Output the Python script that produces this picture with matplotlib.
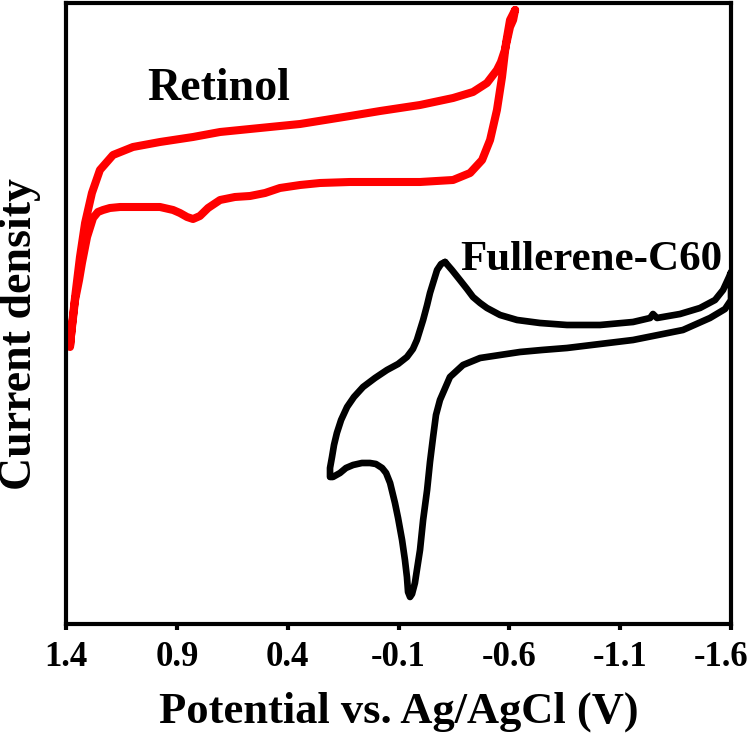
import matplotlib
matplotlib.use("Agg")
import matplotlib.pyplot as plt
from matplotlib.transforms import ScaledTranslation

# Retinol CV (potential in V vs Ag/AgCl, current density in a.u.)
retinol_v = [-0.626, -0.617, -0.603, -0.580, -0.562, -0.544, -0.499, -0.436, -0.346,
             -0.197, -0.107, -0.017, 0.119, 0.344, 0.570, 0.705, 0.827, 0.976,
             1.098, 1.188, 1.247, 1.283, 1.314, 1.337, 1.359, 1.373, 1.382,
             1.377, 1.359, 1.341, 1.328, 1.305, 1.278, 1.256, 1.233, 1.202, 1.156,
             1.066, 0.976, 0.917, 0.886, 0.854, 0.827, 0.796, 0.759, 0.705, 0.638,
             0.570, 0.502, 0.435, 0.344, 0.254, 0.119, -0.197, -0.346, -0.423,
             -0.477, -0.513, -0.544, -0.567, -0.585, -0.603, -0.626]
retinol_j = [6.14, 6.04, 5.97, 5.74, 5.62, 5.54, 5.41, 5.32, 5.26,
             5.19, 5.16, 5.13, 5.08, 5.00, 4.95, 4.92, 4.87, 4.82,
             4.77, 4.69, 4.54, 4.31, 4.01, 3.67, 3.27, 2.99, 2.77,
             2.89, 3.24, 3.44, 3.61, 3.87, 4.06, 4.12, 4.14, 4.16, 4.17,
             4.17, 4.17, 4.14, 4.11, 4.07, 4.05, 4.08, 4.16, 4.24, 4.27,
             4.28, 4.31, 4.36, 4.39, 4.41, 4.42, 4.42, 4.44, 4.51,
             4.64, 4.84, 5.14, 5.47, 5.81, 6.04, 6.14]

# Fullerene-C60 CV
c60_v = [-0.310, -0.341, -0.377, -0.409, -0.436, -0.468, -0.499, -0.558, -0.635,
         -0.738, -0.860, -1.009, -1.158, -1.235, -1.248, -1.266, -1.370, -1.460,
         -1.528, -1.564, -1.591, -1.600,
         -1.600, -1.573, -1.505, -1.383, -1.158, -1.009, -0.860, -0.747, -0.648,
         -0.558, -0.468, -0.391, -0.332, -0.287, -0.269, -0.256, -0.242, -0.229,
         -0.211, -0.197, -0.183, -0.174, -0.161, -0.152, -0.143, -0.138, -0.129,
         -0.116, -0.098, -0.084, -0.062, -0.044, -0.026, 0.002, 0.029, 0.065,
         0.105, 0.137, 0.164, 0.196, 0.209,
         0.209, 0.200, 0.191, 0.178, 0.159, 0.132, 0.101, 0.060, 0.006, -0.048,
         -0.098, -0.138, -0.165, -0.183, -0.197, -0.211, -0.229, -0.242, -0.260,
         -0.274, -0.292, -0.310]
c60_j = [3.62, 3.54, 3.44, 3.35, 3.27, 3.21, 3.16, 3.09, 3.04,
         3.01, 2.99, 2.99, 3.02, 3.06, 3.10, 3.06, 3.10, 3.16,
         3.24, 3.34, 3.47, 3.52,
         3.24, 3.15, 3.06, 2.94, 2.84, 2.80, 2.76, 2.74, 2.72,
         2.69, 2.66, 2.59, 2.47, 2.24, 2.09, 1.87, 1.62, 1.34,
         1.04, 0.74, 0.54, 0.41, 0.30, 0.27, 0.32, 0.47, 0.64,
         0.84, 1.06, 1.21, 1.41, 1.51, 1.56, 1.60, 1.61, 1.61,
         1.59, 1.56, 1.51, 1.47, 1.47,
         1.56, 1.67, 1.79, 1.91, 2.04, 2.17, 2.27, 2.37, 2.46, 2.54,
         2.60, 2.67, 2.75, 2.84, 2.94, 3.04, 3.19, 3.31, 3.44,
         3.54, 3.60, 3.62]

xticks = [1.4, 0.9, 0.4, -0.1, -0.6, -1.1, -1.6]

plt.rcParams['font.family'] = ['Liberation Serif', 'DejaVu Serif']
plt.rcParams['font.weight'] = 'bold'

fig = plt.figure(figsize=(7.5, 7.36), dpi=100)
ax = fig.add_axes([0.088, 0.1522, 0.8867, 0.8444])

ax.plot(retinol_v, retinol_j, color='#ff0000', lw=5.8, solid_joinstyle='round',
        solid_capstyle='round')
ax.plot(c60_v, c60_j, color='black', lw=4.8, solid_joinstyle='round',
        solid_capstyle='round')

ax.text(1.035, 5.24, "Retinol", fontsize=33, fontweight='bold', ha='left',
        va='baseline')
ax.text(-1.559, 3.54, "Fullerene-C60", fontsize=31, fontweight='bold',
        ha='right', va='baseline')

ax.set_xlim(1.4, -1.6)
ax.set_ylim(0, 6.215)
ax.set_xticks(xticks)
ax.set_xticklabels([str(t) for t in xticks])
ax.set_yticks([])
ax.tick_params(axis='x', direction='out', length=4, width=3, labelsize=25,
               pad=8)
for s in ax.spines.values():
    s.set_linewidth(3)

# last label sits a little inside the frame, as in the original
last = ax.get_xticklabels()[-1]
last.set_transform(last.get_transform() +
                   ScaledTranslation(-10 / 100, 0, fig.dpi_scale_trans))

ax.set_xlabel("Potential vs. Ag/AgCl (V)", fontsize=32, fontweight='bold',
              labelpad=13)
fig.text(0.027, 0.546, "Current density", fontsize=33, fontweight='bold',
         rotation=90, ha='center', va='center')

fig.savefig("out.png", dpi=100)
